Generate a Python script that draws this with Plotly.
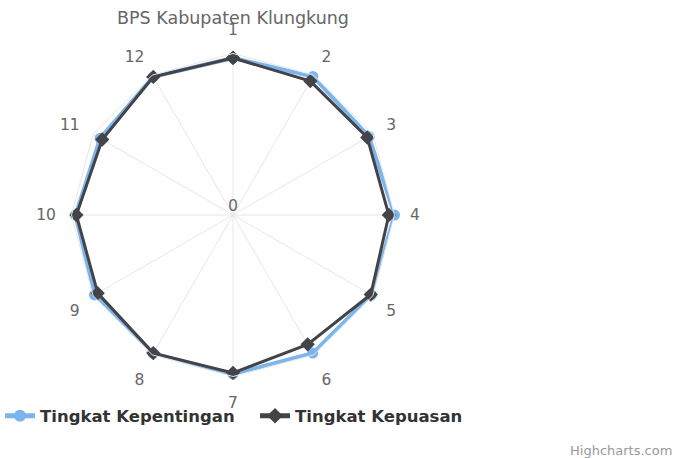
import plotly.graph_objects as go

categories = ["1", "2", "3", "4", "5", "6", "7", "8", "9", "10", "11", "12"]
kepentingan = [3.89, 3.96, 3.89, 4.00, 3.96, 3.95, 3.94, 3.96, 3.96, 3.90, 3.80, 3.95]
kepuasan = [3.89, 3.83, 3.84, 3.86, 3.94, 3.70, 3.91, 3.95, 3.87, 3.88, 3.74, 3.95]
series_names = ["Tingkat Kepentingan", "Tingkat Kepuasan"]
radial_ticks = [0]
radial_max = 4

W, H = 677, 458
cx, cy, R = 233, 215, 161.5

def closed(v):
    return v + v[:1]

fig = go.Figure()
fig.add_trace(go.Scatterpolar(
    r=closed(kepentingan), theta=closed(categories), name=series_names[0],
    mode="lines+markers",
    line=dict(color="#7cb5ec", width=4),
    marker=dict(symbol="circle", size=11, color="#7cb5ec"),
))
fig.add_trace(go.Scatterpolar(
    r=closed(kepuasan), theta=closed(categories), name=series_names[1],
    mode="lines+markers",
    line=dict(color="#434348", width=3),
    marker=dict(symbol="diamond", size=11, color="#434348"),
))

font_family = "DejaVu Sans"
fig.update_layout(
    width=W, height=H,
    margin=dict(l=0, r=0, t=0, b=0),
    paper_bgcolor="white",
    plot_bgcolor="white",
    font=dict(family=font_family, color="#666666"),
    title=dict(text="BPS Kabupaten Klungkung", x=cx / W, xanchor="center",
               y=1 - 18 / H, yanchor="middle",
               font=dict(size=17.5, color="#666666", family=font_family)),
    polar=dict(
        domain=dict(x=[(cx - R) / W, (cx + R) / W],
                    y=[(H - cy - R) / H, (H - cy + R) / H]),
        bgcolor="white",
        gridshape="linear",
        angularaxis=dict(
            type="category", categoryarray=categories,
            direction="clockwise", rotation=90,
            showgrid=True, gridcolor="#e6e6e6", gridwidth=1,
            showline=True, linecolor="#e6e6e6", linewidth=1,
            ticks="outside", ticklen=12, tickcolor="rgba(0,0,0,0)",
            tickfont=dict(size=15.5, color="#666666"),
        ),
        radialaxis=dict(
            range=[0, radial_max], showgrid=False, showline=False,
            tickvals=radial_ticks, ticktext=[str(t) for t in radial_ticks],
            angle=180, side="clockwise", tickangle=0, ticks="",
            tickfont=dict(size=15.5, color="#666666"),
        ),
    ),
    showlegend=True,
    legend=dict(orientation="h", x=0, xanchor="left", y=1 - 416 / H,
                yanchor="middle", bgcolor="rgba(0,0,0,0)",
                entrywidth=210, entrywidthmode="pixels",
                font=dict(size=16.5, color="#333333", family="DejaVu Sans", weight="bold"),
                itemsizing="constant"),
    annotations=[dict(text="Highcharts.com", xref="paper", yref="paper",
                      x=1 - 3 / W, y=1 - 450 / H, xanchor="right", yanchor="middle",
                      showarrow=False, font=dict(size=13, color="#999999", family=font_family))],
)
fig.update_traces(cliponaxis=False)

fig.write_html("out.html", config={"displayModeBar": False},
               post_script="document.body.style.margin='0';")
